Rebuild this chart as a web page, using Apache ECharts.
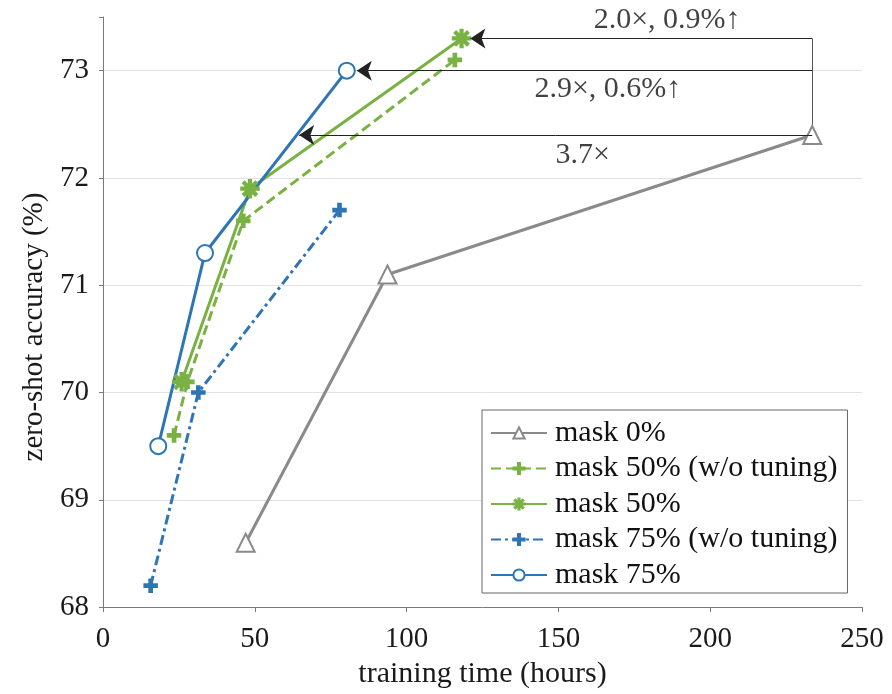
<!DOCTYPE html>
<html>
<head>
<meta charset="utf-8">
<script src="https://cdn.jsdelivr.net/npm/echarts@6/dist/echarts.min.js"></script>
<style>
html,body{margin:0;padding:0;background:#fff;}
#chart{width:892px;height:694px;}
</style>
</head>
<body>
<div id="chart"></div>
<script>
// ---- data ----
const seriesNames = ['mask 0%', 'mask 50% (w/o tuning)', 'mask 50%', 'mask 75% (w/o tuning)', 'mask 75%'];
const mask0 = [[47.0, 68.6], [93.7, 71.1], [233.6, 72.4]];
const mask50NoTune = [[23.4, 69.6], [27.8, 70.1], [46.2, 71.6], [115.9, 73.1]];
const mask50 = [[25.9, 70.1], [48.4, 71.9], [118.1, 73.3]];
const mask75NoTune = [[15.7, 68.2], [31.4, 70.0], [77.9, 71.7]];
const mask75 = [[18.2, 69.5], [33.6, 71.3], [80.3, 73.0]];
const xTicks = [0, 50, 100, 150, 200, 250];
const yTicks = [68, 69, 70, 71, 72, 73];
// annotation segments (from mask 0% end point to targets)
const arrowSegments = [
  [[233.6, 73.3], [121.0, 73.3]],
  [[233.6, 73.0], [83.6, 73.0]],
  [[233.6, 72.4], [64.6, 72.4]]
];
const plainSegments = [
  [[233.6, 72.4], [233.6, 73.3]]
];
const annotationTexts = [
  [185.8, 73.47, '2.0×, 0.9%↑'],
  [166.3, 72.83, '2.9×, 0.6%↑'],
  [158.0, 72.21, '3.7×']
];

// ---- styles ----
const FONT = '"Liberation Serif", "DejaVu Serif", serif';
const GRAY = '#8a8a8a', GREEN = '#79b243', BLUE = '#2e75b6';
const plusPath = 'path://M-1.1,-6L1.1,-6L1.1,-1.1L6,-1.1L6,1.1L1.1,1.1L1.1,6L-1.1,6L-1.1,1.1L-6,1.1L-6,-1.1L-1.1,-1.1Z';
const asteriskPath = 'path://M-0.8,-8L0.8,-8L0.8,8L-0.8,8Z' +
  'M-8,-0.8L8,-0.8L8,0.8L-8,0.8Z' +
  'M5.091,6.223L-6.223,-5.091L-5.091,-6.223L6.223,5.091Z' +
  'M-6.223,5.091L5.091,-6.223L6.223,-5.091L-5.091,6.223Z';

const chart = echarts.init(document.getElementById('chart'), null, {renderer: 'canvas'});

function lineSeries(name, data, color, symbol, size, dash) {
  return {
    name: name,
    type: 'line',
    data: data,
    symbol: symbol,
    symbolSize: size,
    showAllSymbol: true,
    lineStyle: {color: color, width: 3, type: dash || 'solid'},
    itemStyle: {color: color, borderColor: color, borderWidth: 2.5},
    emphasis: {disabled: true},
    z: 3
  };
}

const option = {
  animation: false,
  backgroundColor: '#fff',
  textStyle: {fontFamily: FONT},
  grid: {left: 103, right: 30, top: 17, bottom: 85, containLabel: false},
  xAxis: {
    type: 'value',
    min: xTicks[0], max: xTicks[xTicks.length - 1], interval: 50,
    name: 'training time (hours)',
    nameLocation: 'middle',
    nameGap: 49,
    nameTextStyle: {fontSize: 30, color: '#1a1a1a', fontFamily: FONT},
    axisLine: {show: true, lineStyle: {color: '#7a7a7a', width: 1}},
    axisTick: {show: true, length: 5, lineStyle: {color: '#7a7a7a'}},
    axisLabel: {fontSize: 29, color: '#1a1a1a', fontFamily: FONT, margin: 18},
    splitLine: {show: false}
  },
  yAxis: {
    type: 'value',
    min: yTicks[0], max: 73.5, interval: 1,
    name: 'zero-shot accuracy (%)',
    nameLocation: 'middle',
    nameGap: 50,
    nameTextStyle: {fontSize: 29, color: '#1a1a1a', fontFamily: FONT, padding: [0, 30, 0, 0]},
    axisLine: {show: true, lineStyle: {color: '#7a7a7a', width: 1}},
    axisTick: {show: true, length: 4, lineStyle: {color: '#7a7a7a'}},
    axisLabel: {
      fontSize: 29, color: '#1a1a1a', fontFamily: FONT, margin: 14,
      formatter: function (v) { return yTicks.indexOf(v) >= 0 ? String(v) : ''; }
    },
    splitLine: {show: true, showMinLine: false, showMaxLine: false, lineStyle: {color: '#e2e2e2', width: 1}}
  },
  legend: {
    data: seriesNames,
    orient: 'vertical',
    left: 482, top: 410,
    padding: [8, 10, 3, 8],
    itemGap: 5.5,
    itemWidth: 56,
    itemHeight: 14,
    backgroundColor: '#fff',
    borderColor: '#666',
    borderWidth: 1,
    borderRadius: 0,
    selectedMode: false,
    textStyle: {fontSize: 30, color: '#111', fontFamily: FONT, lineHeight: 30, padding: [0, 0, 0, 3]}
  },
  series: [
    lineSeries(seriesNames[0], mask0, GRAY, 'emptyTriangle', 18),
    lineSeries(seriesNames[1], mask50NoTune, GREEN, plusPath, 12, [10, 5]),
    lineSeries(seriesNames[2], mask50, GREEN, asteriskPath, 17),
    lineSeries(seriesNames[3], mask75NoTune, BLUE, plusPath, 12, [10, 4, 3, 4]),
    lineSeries(seriesNames[4], mask75, BLUE, 'emptyCircle', 16),
    {
      type: 'lines',
      coordinateSystem: 'cartesian2d',
      data: plainSegments.map(function (c) { return {coords: c}; }),
      symbol: ['none', 'none'],
      lineStyle: {color: '#555', width: 1, opacity: 1, curveness: 0},
      silent: true,
      z: 2
    },
    {
      type: 'lines',
      coordinateSystem: 'cartesian2d',
      data: arrowSegments.map(function (c) { return {coords: c}; }),
      symbol: ['none', 'arrow'],
      symbolSize: 15,
      lineStyle: {color: '#222', width: 1, opacity: 1, curveness: 0},
      silent: true,
      z: 4
    },
    {
      type: 'scatter',
      data: annotationTexts,
      symbolSize: 0,
      silent: true,
      label: {
        show: true,
        position: 'inside',
        formatter: function (p) { return p.value[2]; },
        fontSize: 30,
        color: '#111',
        fontFamily: FONT
      },
      z: 5
    }
  ]
};
chart.setOption(option);
</script>
</body>
</html>
